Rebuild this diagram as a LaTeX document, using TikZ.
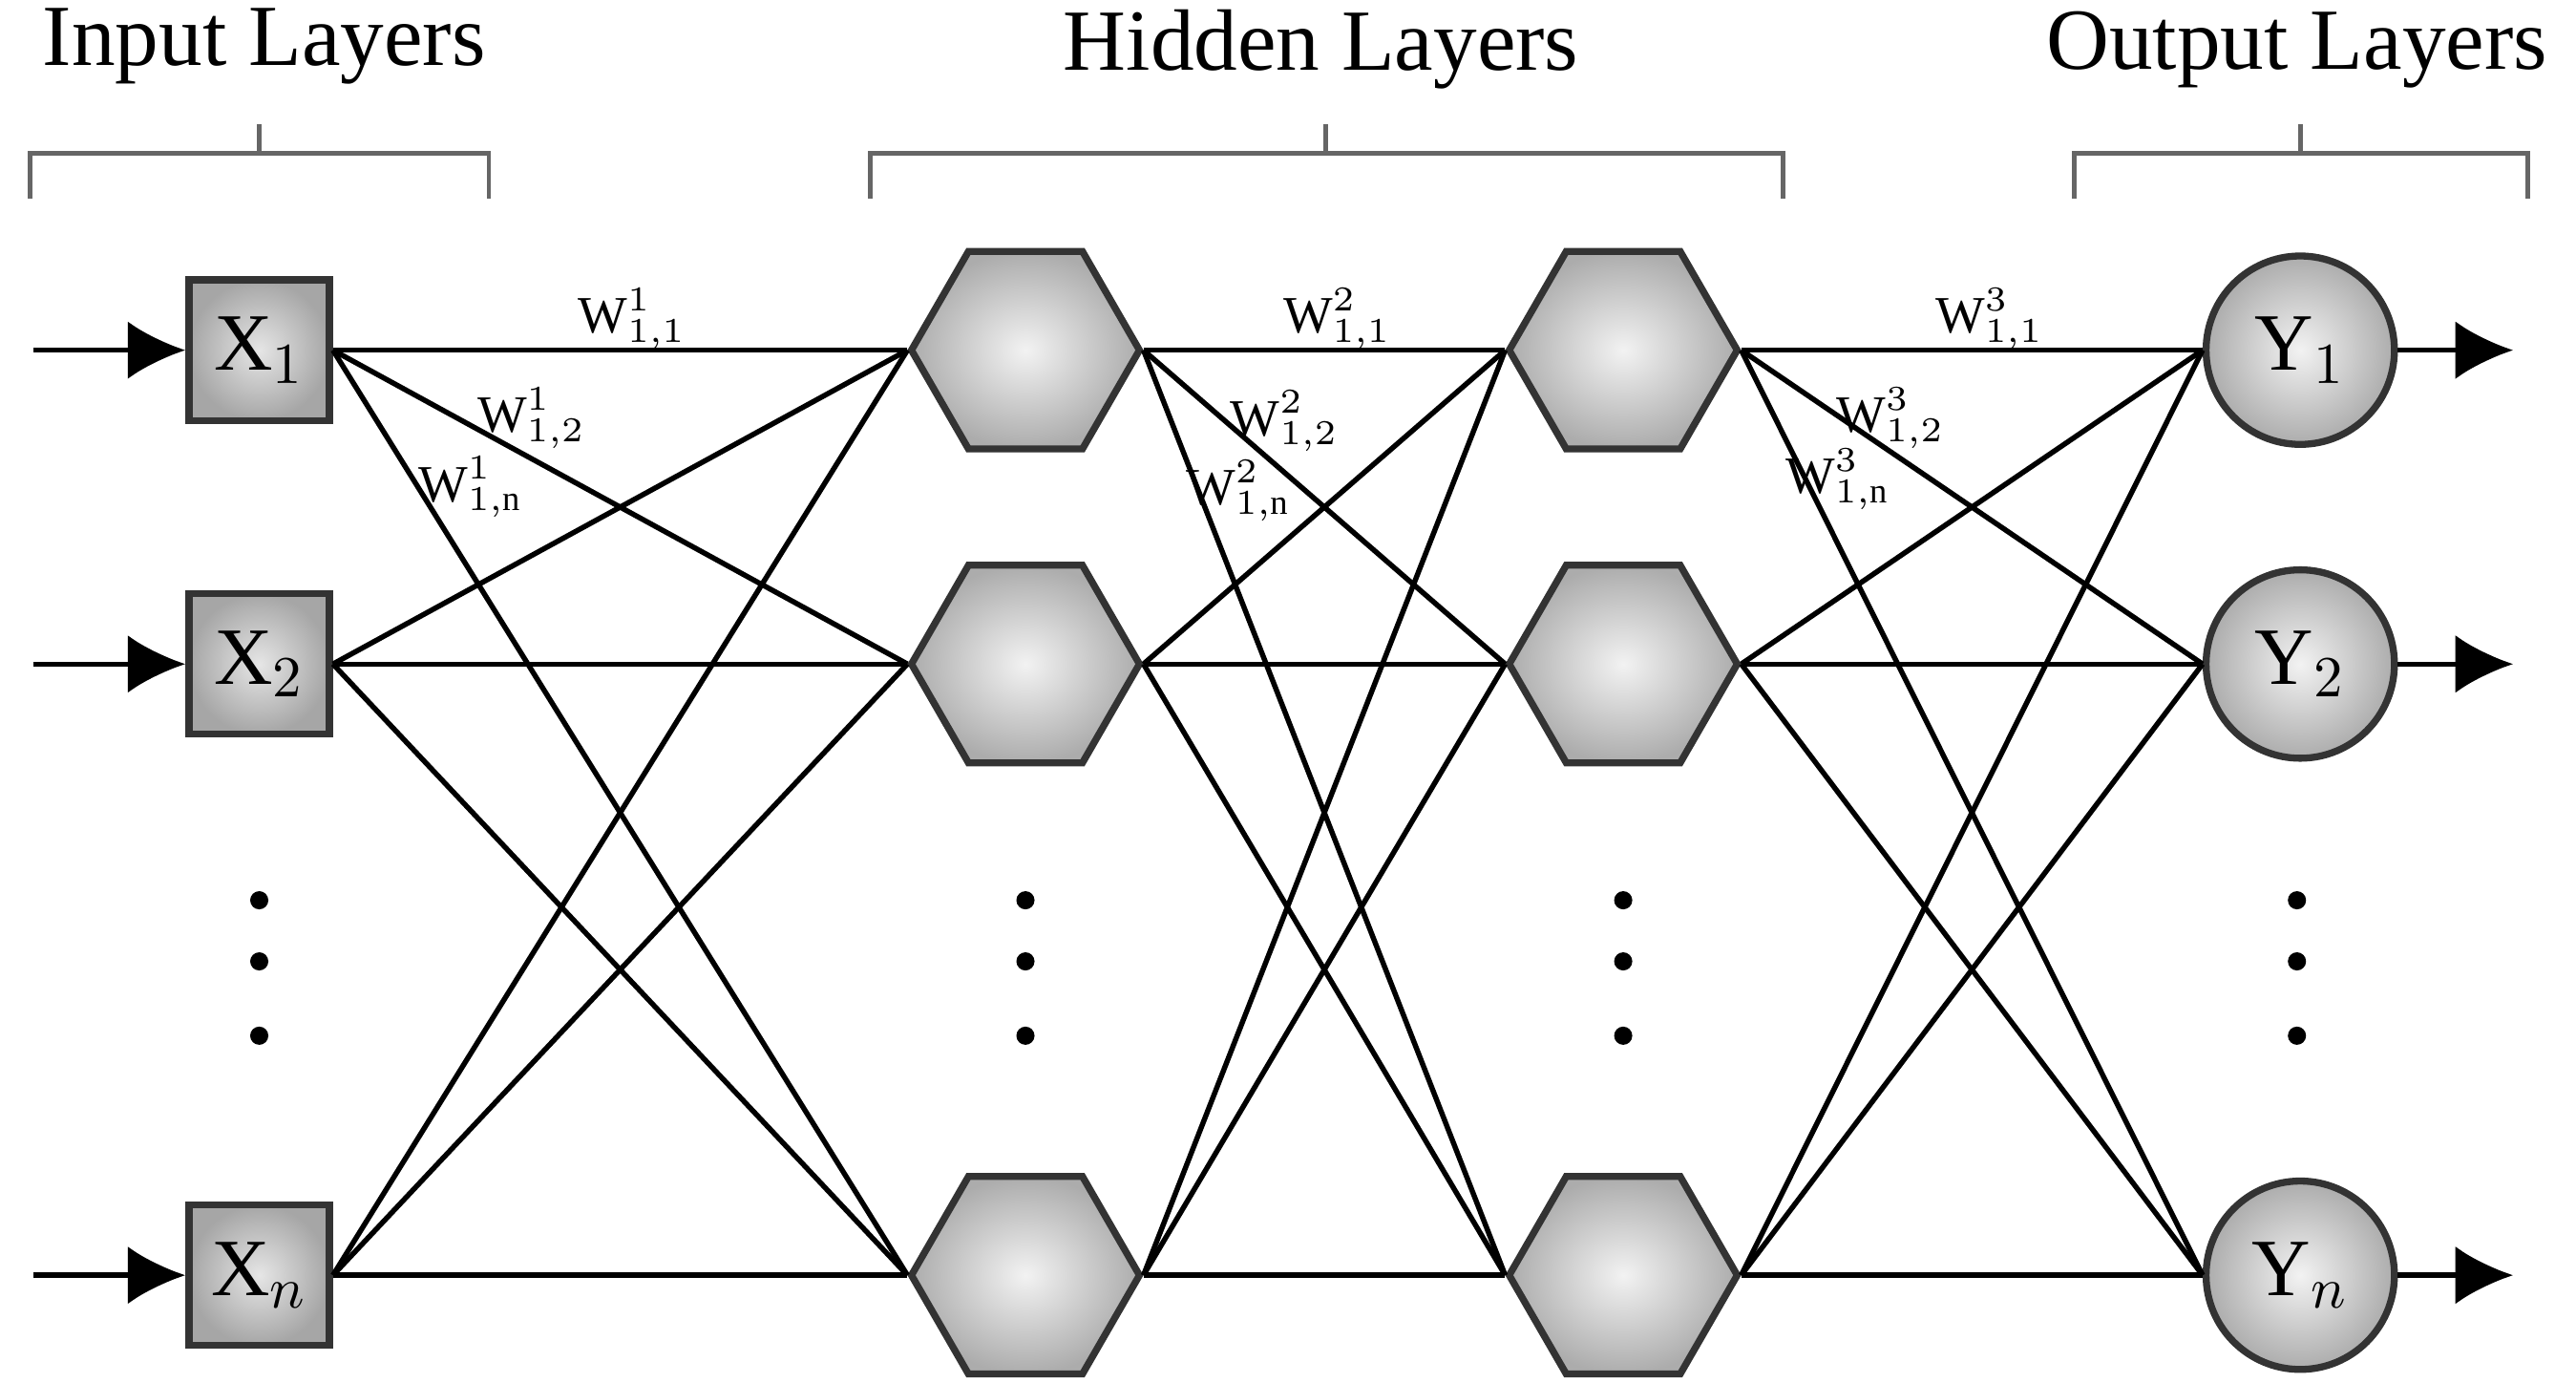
\documentclass[tikz,border=0pt]{standalone}
\usepackage{amsmath}
\usepackage{fontspec}
\setmainfont{Liberation Serif}
\usetikzlibrary{shapes.geometric,arrows.meta}
\tikzset{
  neuron/.style={draw=black!80,line width=1.2pt,shading=radial,inner color=gray!10,outer color=gray!65,font=\fontsize{14}{14}\selectfont},
  inp/.style={neuron,rectangle,minimum size=0.85cm,inner color=gray!20,outer color=gray!70},
  hid/.style={neuron,regular polygon,regular polygon sides=6,minimum size=1.38cm,inner sep=0pt},
  outp/.style={neuron,circle,minimum size=1.14cm},
  wire/.style={line width=0.9pt},
  title/.style={font=\fontsize{15}{15}\selectfont},
  wlab/.style={font=\fontsize{9}{9}\selectfont,inner sep=0pt}
}
\begin{document}
\begin{tikzpicture}[x=0.01cm,y=-0.01cm,>=latex]
        \useasboundingbox (0,0) rectangle (1560,837);
        % nodes
        \foreach \i/\y in {1/212,2/402,n/772}{
          \node[inp] (x\i) at (157,\y) {X$_{\i}$};
          \node[hid] (a\i) at (621,\y) {};
          \node[hid] (b\i) at (983,\y) {};
          \node[outp] (y\i) at (1393,\y) {Y$_{\i}$};
          \coordinate (in\i) at (20,\y);
          \coordinate (out\i) at (1522,\y);
          \draw[wire,-{Latex[length=0.35cm,width=0.35cm]}] (in\i) -- (x\i);
          \draw[wire,-{Latex[length=0.35cm,width=0.35cm]}] (y\i) -- (out\i);
        }
        % connections
        \foreach \i in {1,2,n}{
          \foreach \j in {1,2,n}{
            \draw[wire] (x\i.east) -- (a\j.west);
            \draw[wire] (a\i.east) -- (b\j.west);
            \draw[wire] (b\i.east) -- (y\j.west);
          }
        }
        % dots
        \foreach \xx in {157,621,983,1391}{
          \foreach \yy in {545,582,627}
            \fill (\xx,\yy) circle (0.055cm);
        }
        % weights
        \node[wlab] at (383,193) {W$^{1}_{1,1}$};
        \node[wlab] at (322,253) {W$^{1}_{1,2}$};
        \node[wlab] at (285,295) {W$^{1}_{1,\mathrm{n}}$};
        \node[wlab] at (810,193) {W$^{2}_{1,1}$};
        \node[wlab] at (778,255) {W$^{2}_{1,2}$};
        \node[wlab] at (750,297) {W$^{2}_{1,\mathrm{n}}$};
        \node[wlab] at (1205,193) {W$^{3}_{1,1}$};
        \node[wlab] at (1145,253) {W$^{3}_{1,2}$};
        \node[wlab] at (1113,290) {W$^{3}_{1,\mathrm{n}}$};
        % titles and brackets
        \node[title] at (160,28) {Input Layers};
        \node[title] at (800,30) {Hidden Layers};
        \node[title] at (1391,30) {Output Layers};
        \draw[gray!80!black,line width=0.8pt] (18,120) -- (18,93) -- (296,93) -- (296,120) (157,93) -- (157,75);
        \draw[gray!80!black,line width=0.8pt] (527,120) -- (527,93) -- (1080,93) -- (1080,120) (803,93) -- (803,75);
        \draw[gray!80!black,line width=0.8pt] (1256,120) -- (1256,93) -- (1531,93) -- (1531,120) (1393,93) -- (1393,75);
    \end{tikzpicture}
\end{document}
